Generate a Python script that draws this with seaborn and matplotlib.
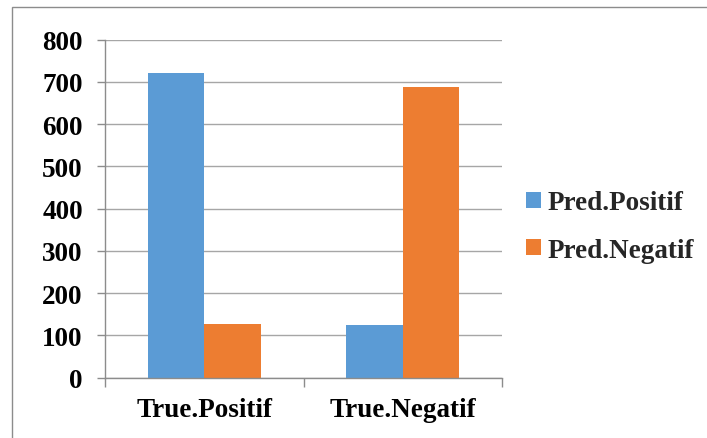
import matplotlib
matplotlib.use("Agg")
import matplotlib.pyplot as plt
from matplotlib.patches import Rectangle
import seaborn as sns
import pandas as pd

# Confusion-matrix counts grouped by true class
true_classes = ["True.Positif", "True.Negatif"]
pred_classes = ["Pred.Positif", "Pred.Negatif"]
pred_positif = [721, 125]
pred_negatif = [127, 687]
y_ticks = [0, 100, 200, 300, 400, 500, 600, 700, 800]

df = pd.DataFrame({
    "true": true_classes * 2,
    "pred": [pred_classes[0]] * 2 + [pred_classes[1]] * 2,
    "count": pred_positif + pred_negatif,
})

sns.set_theme(style="white")
plt.rcParams["font.family"] = ["Liberation Serif", "DejaVu Serif"]
plt.rcParams["font.weight"] = "bold"

BLUE = "#5B9BD5"
ORANGE = "#ED7D31"
GRID = "#a6a6a6"
AXIS = "#8c8c8c"

fig = plt.figure(figsize=(7.07, 4.39), dpi=100)
ax = fig.add_axes([105 / 707, 1 - 378.7 / 439, (502 - 105) / 707, (378.7 - 40.7) / 439])

sns.barplot(data=df, x="true", y="count", hue="pred", order=true_classes,
            hue_order=pred_classes, palette=[BLUE, ORANGE], width=0.571,
            gap=0, saturation=1, ax=ax, errorbar=None, linewidth=0)

ax.set_xlim(-0.5, 1.5)
ax.set_ylim(0, 800)
ax.set_yticks(y_ticks)
ax.set_yticklabels([str(v) for v in y_ticks], fontsize=19.5, fontweight="bold")
ax.set_xticks([0, 1])
ax.set_xticklabels(true_classes, fontsize=19.5, fontweight="bold")
ax.set_xticks([-0.5, 0.5, 1.5], minor=True)
ax.set_xlabel("")
ax.set_ylabel("")

ax.yaxis.grid(True, color=GRID, linewidth=1.0)
ax.set_axisbelow(True)
for side in ("top", "right"):
    ax.spines[side].set_visible(False)
for side in ("left", "bottom"):
    ax.spines[side].set_color(AXIS)
    ax.spines[side].set_linewidth(1.0)

ax.tick_params(axis="y", which="major", direction="out", length=6, width=1.0,
               color=AXIS, pad=10, left=True, labelcolor="black")
ax.tick_params(axis="x", which="major", length=0, pad=14, labelcolor="black")
ax.tick_params(axis="x", which="minor", direction="out", length=6.5, width=1.0,
               color=AXIS, bottom=True)

handles, labels = ax.get_legend_handles_labels()
leg = ax.legend(handles, labels, loc="center left",
                bbox_to_anchor=(526 / 707, 1 - 227.5 / 439),
                bbox_transform=fig.transFigure, frameon=False,
                prop={"family": "Liberation Serif", "weight": "bold", "size": 19.5},
                handlelength=0.55, handleheight=0.55, handletextpad=0.25,
                labelspacing=0.82, borderpad=0, borderaxespad=0)

# Outer chart frame
fig.patches.append(Rectangle((12 / 707, -0.1), 1.2, 1 - 8 / 439 + 0.1,
                             transform=fig.transFigure, fill=False,
                             edgecolor=AXIS, linewidth=1.0, zorder=0))

fig.savefig("out.png", dpi=100)
